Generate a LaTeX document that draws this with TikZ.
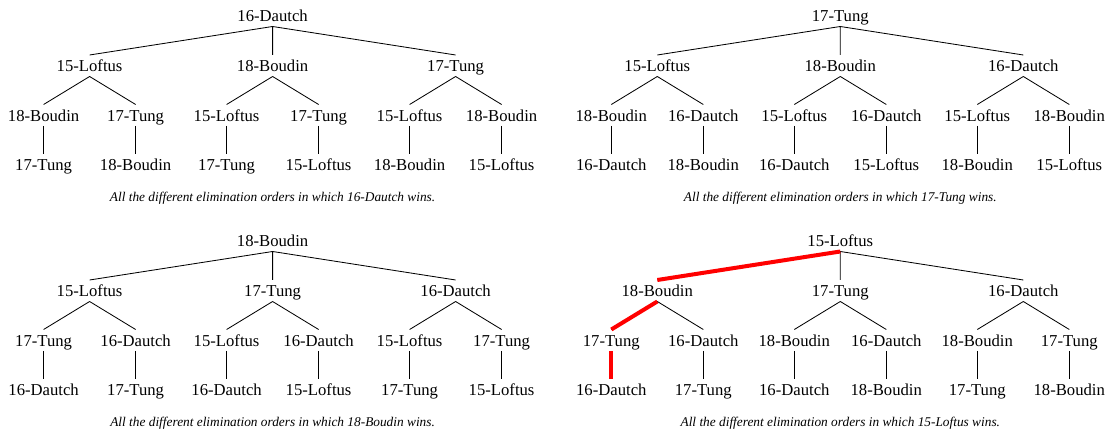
\documentclass[tikz,border=0pt]{standalone}
\usepackage{fontspec}
\setmainfont{Liberation Serif}
\tikzset{
  player/.style={inner sep=0pt, text height=10pt, text depth=2.5pt, anchor=base},
  caption/.style={anchor=base, font=\footnotesize\itshape},
  link/.style={line width=.5pt},
  win/.style={draw=red, line width=2.4pt}
}
% #1 prefix, #2 #3 position of the winner, #4 winner, #5 #6 #7 the others
\newcommand{\elimtree}[7]{%
  \begin{scope}[shift={(#2,#3)}]
    \node[player] (#1) at (0,0) {#4};
    \node[player] (#1a) at (-183,50) {#5};
    \node[player] (#1b) at (0,50) {#6};
    \node[player] (#1c) at (183,50) {#7};
    \node[player] (#1aa) at (-229,99.5) {#6};
    \node[player] (#1ab) at (-137,99.5) {#7};
    \node[player] (#1ba) at (-46,99.5) {#5};
    \node[player] (#1bb) at (46,99.5) {#7};
    \node[player] (#1ca) at (137,99.5) {#5};
    \node[player] (#1cb) at (229,99.5) {#6};
    \node[player] (#1aaa) at (-229,149) {#7};
    \node[player] (#1aba) at (-137,149) {#6};
    \node[player] (#1baa) at (-46,149) {#7};
    \node[player] (#1bba) at (46,149) {#5};
    \node[player] (#1caa) at (137,149) {#6};
    \node[player] (#1cba) at (229,149) {#5};
    \node[caption] (#1cap) at (0,180) {All the different elimination orders in which #4 wins.};
    \draw[link] (#1.south) -- (#1a.north) (#1.south) -- (#1b.north) (#1.south) -- (#1c.north);
    \draw[link] (#1a.south) -- (#1aa.north) (#1a.south) -- (#1ab.north);
    \draw[link] (#1b.south) -- (#1ba.north) (#1b.south) -- (#1bb.north);
    \draw[link] (#1c.south) -- (#1ca.north) (#1c.south) -- (#1cb.north);
    \draw[link] (#1aa.south) -- (#1aaa.north) (#1ab.south) -- (#1aba.north);
    \draw[link] (#1ba.south) -- (#1baa.north) (#1bb.south) -- (#1bba.north);
    \draw[link] (#1ca.south) -- (#1caa.north) (#1cb.south) -- (#1cba.north);
  \end{scope}}
\begin{document}
\begin{tikzpicture}[x=0.6pt, y=-0.6pt]
  \useasboundingbox (0,0) rectangle (1109,432);
  \elimtree{d}{272.6}{22}{16-Dautch}{15-Loftus}{18-Boudin}{17-Tung}
  \elimtree{t}{840.3}{22}{17-Tung}{15-Loftus}{18-Boudin}{16-Dautch}
  \elimtree{b}{272.6}{247}{18-Boudin}{15-Loftus}{17-Tung}{16-Dautch}
  \elimtree{l}{840.3}{247}{15-Loftus}{18-Boudin}{17-Tung}{16-Dautch}
  % the path that is marked
  \draw[win] (l.south) -- (la.north);
  \draw[win] (la.south) -- (laa.north);
  \draw[win] (laa.south) -- (laaa.north);
\end{tikzpicture}
\end{document}
